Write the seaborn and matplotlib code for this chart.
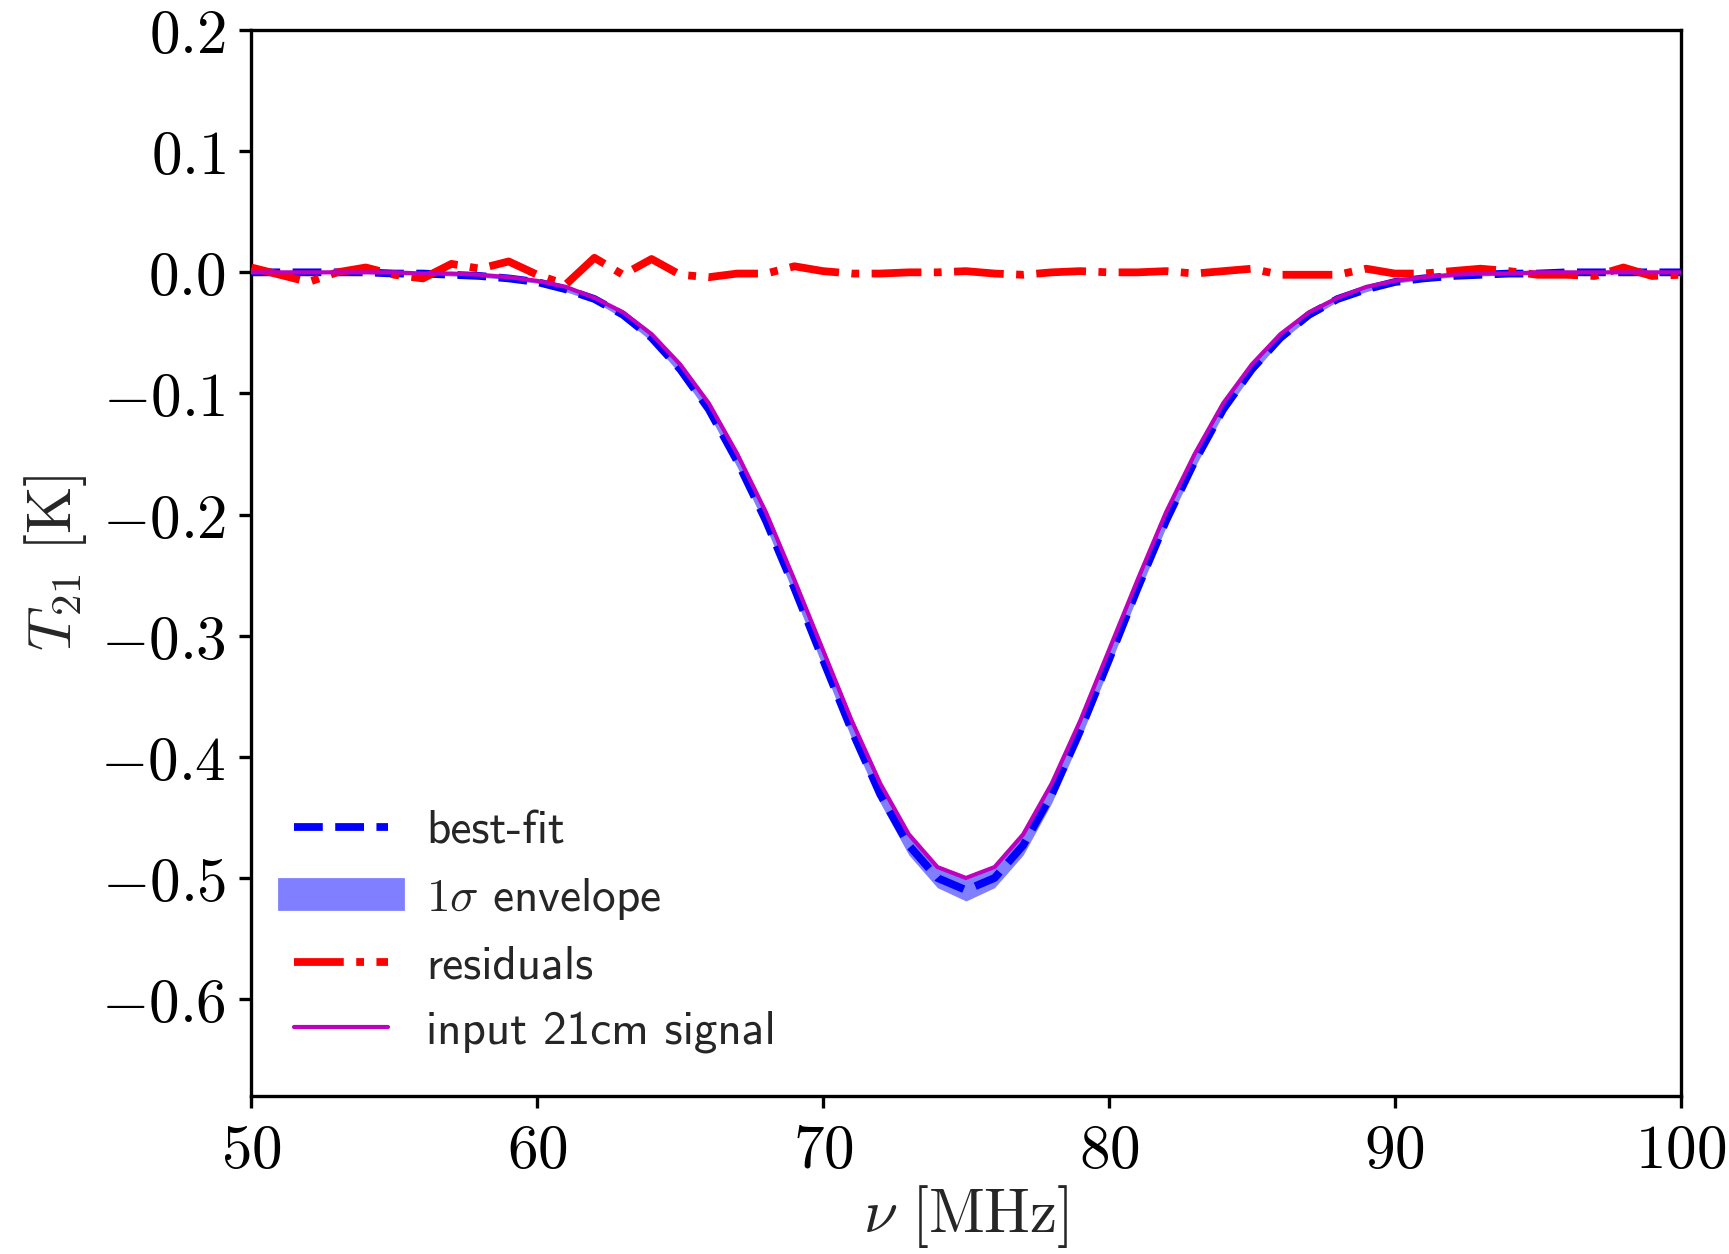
import matplotlib
matplotlib.use("Agg")
import matplotlib.pyplot as plt
from matplotlib.lines import Line2D
import seaborn as sns
import pandas as pd

# ---- data ----
freq = list(range(50, 101))

input_signal = [0.000, 0.000, 0.000, 0.000, 0.000, 0.000, -0.001, -0.001, -0.002, -0.004,
                -0.007, -0.012, -0.021, -0.033, -0.051, -0.076, -0.108, -0.150, -0.198, -0.254,
                -0.312, -0.370, -0.422, -0.464, -0.491, -0.500, -0.491, -0.464, -0.422, -0.370,
                -0.312, -0.254, -0.198, -0.150, -0.108, -0.076, -0.051, -0.033, -0.021, -0.012,
                -0.007, -0.004, -0.002, -0.001, -0.001, 0.000, 0.000, 0.000, 0.000, 0.000, 0.000]

best_fit = [0.000, 0.000, 0.000, 0.000, 0.000, -0.001, -0.001, -0.002, -0.003, -0.005,
            -0.008, -0.014, -0.022, -0.035, -0.054, -0.080, -0.113, -0.156, -0.205, -0.261,
            -0.320, -0.378, -0.431, -0.473, -0.500, -0.510, -0.500, -0.473, -0.431, -0.378,
            -0.320, -0.261, -0.205, -0.156, -0.113, -0.080, -0.054, -0.035, -0.022, -0.014,
            -0.008, -0.005, -0.003, -0.002, -0.001, -0.001, 0.000, 0.000, 0.000, 0.000, 0.000]

sigma = [0.001, 0.001, 0.001, 0.001, 0.001, 0.001, 0.001, 0.001, 0.001, 0.001,
         0.001, 0.002, 0.002, 0.003, 0.003, 0.004, 0.004, 0.005, 0.005, 0.006,
         0.006, 0.007, 0.007, 0.008, 0.008, 0.009, 0.008, 0.008, 0.007, 0.007,
         0.006, 0.006, 0.005, 0.005, 0.004, 0.004, 0.003, 0.003, 0.002, 0.002,
         0.001, 0.001, 0.001, 0.001, 0.001, 0.001, 0.001, 0.001, 0.001, 0.001, 0.001]

residuals = [0.004, -0.002, -0.008, 0.000, 0.004, -0.002, -0.005, 0.007, 0.003, 0.009,
             -0.002, -0.010, 0.012, -0.002, 0.011, -0.002, -0.004, -0.001, -0.001, 0.005,
             0.001, -0.001, -0.001, 0.000, 0.000, 0.001, -0.001, -0.002, 0.000, 0.001,
             0.000, 0.000, 0.001, -0.001, 0.001, 0.003, -0.002, -0.002, -0.002, 0.003,
             -0.001, -0.001, 0.001, 0.003, 0.001, -0.002, -0.002, -0.003, 0.004, -0.003, -0.002]

xticks = [50, 60, 70, 80, 90, 100]
yticks = [0.2, 0.1, 0.0, -0.1, -0.2, -0.3, -0.4, -0.5, -0.6]

df = pd.DataFrame({"freq": freq, "input": input_signal, "best": best_fit,
                   "sigma": sigma, "resid": residuals})
df["lo"] = df["best"] - df["sigma"]
df["hi"] = df["best"] + df["sigma"]

# ---- style ----
sns.set_style("ticks")
plt.rcParams["mathtext.fontset"] = "cm"
plt.rcParams["axes.linewidth"] = 1.2
plt.rcParams["xtick.major.width"] = 1.2
plt.rcParams["ytick.major.width"] = 1.2
plt.rcParams["xtick.major.size"] = 4.2
plt.rcParams["ytick.major.size"] = 4.2
plt.rcParams["axes.edgecolor"] = "black"

fig = plt.figure(figsize=(8.645, 6.27), dpi=200)
ax = fig.add_axes([0.1454, 0.126, 0.972 - 0.1454, 0.976 - 0.126])

sns.lineplot(data=df, x="freq", y="best", ax=ax, color="#0000ff", linestyle="--",
             linewidth=2.8, zorder=3)
ax.fill_between(df["freq"], df["lo"], df["hi"], color="#0000ff", alpha=0.5,
                linewidth=0, zorder=2)
sns.lineplot(data=df, x="freq", y="resid", ax=ax, color="#ff0000", linestyle="-.",
             linewidth=2.8, zorder=4)
sns.lineplot(data=df, x="freq", y="input", ax=ax, color="#bf00bf", linestyle="-",
             linewidth=1.5, zorder=5)

ax.set_xlim(50, 100)
ax.set_ylim(-0.68, 0.2)
ax.set_xticks(xticks)
ax.set_xticklabels([r"$%d$" % v for v in xticks], fontsize=22)
ax.set_yticks(yticks)
ax.set_yticklabels([r"$%.1f$" % v if v != 0 else r"$0.0$" for v in yticks], fontsize=22)
ax.tick_params(axis="both", which="both", direction="out", top=False, right=False,
               colors="black", pad=5)
for s in ax.spines.values():
    s.set_visible(True)
    s.set_color("black")
    s.set_linewidth(1.2)

ax.set_xlabel(r"$\nu\ [\mathrm{MHz}]$", fontsize=22, labelpad=1)
ax.set_ylabel(r"$T_{21}\ [\mathrm{K}]$", fontsize=22, labelpad=4)

handles = [
    Line2D([], [], color="#0000ff", linestyle="--", linewidth=2.8),
    Line2D([], [], color="#0000ff", alpha=0.5, linewidth=11.8, solid_capstyle="projecting"),
    Line2D([], [], color="#ff0000", linestyle="-.", linewidth=2.8),
    Line2D([], [], color="#bf00bf", linestyle="-", linewidth=1.5),
]
labels = ["best-fit", r"$1\sigma$ envelope", "residuals", "input 21cm signal"]
ax.legend(handles, labels, loc="lower left", frameon=False,
          prop={"family": ["cmss10", "DejaVu Sans"], "size": 17})

fig.savefig("out.png", dpi=200)
